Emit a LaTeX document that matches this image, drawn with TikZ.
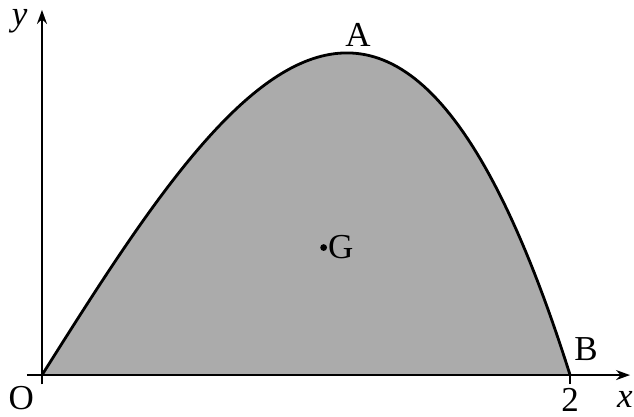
\documentclass[tikz,border=0pt]{standalone}
\usepackage{fontspec}
\setmainfont{Liberation Serif}
\usepackage{tikz}
\usetikzlibrary{arrows.meta,positioning}
\definecolor{areagray}{HTML}{ABABAB}

\begin{document}
\begin{tikzpicture}[x=132pt,y=52.3pt,
    lbl/.style={font=\fontsize{17.5}{20}\selectfont,inner sep=1pt},
    axis/.style={line width=1pt,-{Stealth[length=7pt,width=5pt]}},
    curve/.style={line width=1.4pt}
  ]
    \useasboundingbox (-0.159,-0.392) rectangle (2.242,3.585);
    \coordinate (O) at (0,0);
    \coordinate (B) at (2,0);
    \coordinate (xstart) at (-0.057,0);
    \coordinate (xend) at (2.227,0);
    \coordinate (ystart) at (0,-0.09);
    \coordinate (yend) at (0,3.49);
    \coordinate (tick) at (2,-0.09);
    \coordinate (G) at (16/15,1.219);
    % region under y = x(4-x^2)
    \fill[areagray,domain=0:2,samples=120] plot (\x,{\x*(4-\x*\x)}) -- cycle;
    \draw[curve,domain=0:2,samples=120] plot (\x,{\x*(4-\x*\x)});
    \draw[axis] (xstart)--(xend);
    \draw[axis] (ystart)--(yend);
    \draw[line width=1pt] (B)--(tick);
    \fill (G) circle (1.7pt);
    \node[lbl,right=1pt of G] (glbl) {G};
    \node[lbl] (albl) at (1.197,3.25) {A};
    \node[lbl] (blbl) at (2.06,0.25) {B};
    \node[lbl] (olbl) at (-0.078,-0.22) {O};
    \node[lbl] (twolbl) at (2.0,-0.235) {2};
    \node[lbl,anchor=east,inner sep=0.5pt] (xlbl) at (2.242,-0.235) {\itshape x};
    \node[lbl] (ylbl) at (-0.085,3.38) {\itshape y};
\end{tikzpicture}
\end{document}
